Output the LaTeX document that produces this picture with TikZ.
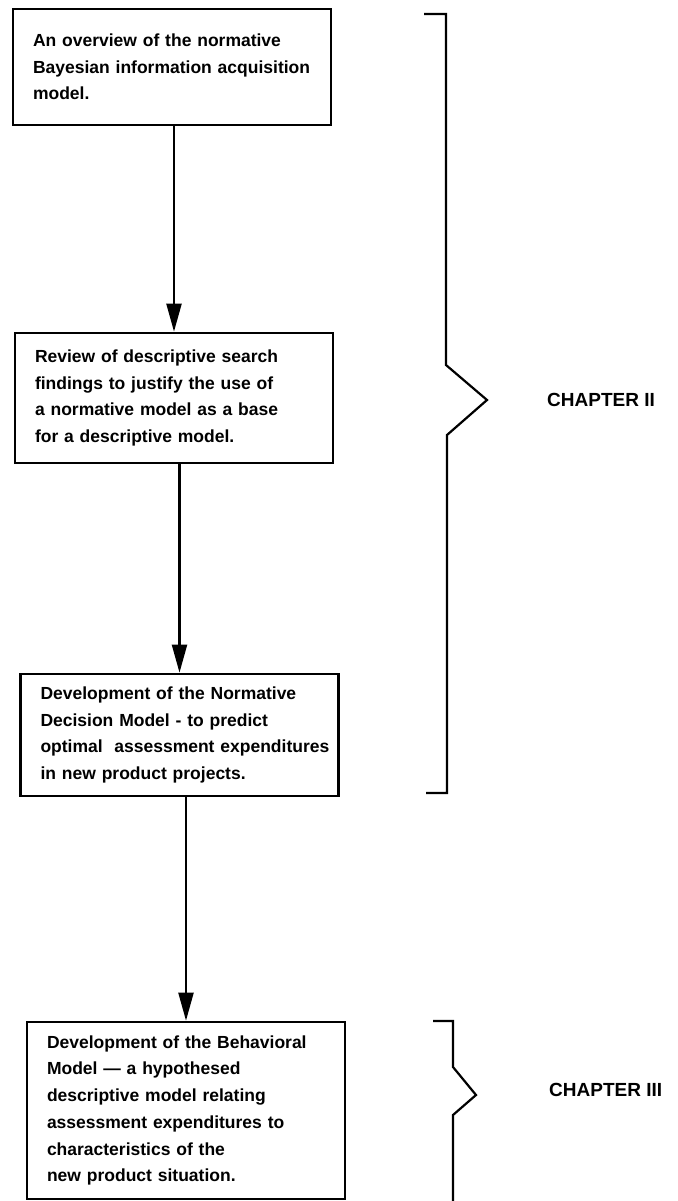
\documentclass[tikz,border=0pt]{standalone}
\usepackage{fontspec}
\setmainfont{Liberation Sans}
\usetikzlibrary{arrows.meta,positioning}

\begin{document}
\begin{tikzpicture}[x=1pt,y=1pt,yscale=-1,xscale=1,
    stepbox/.style={draw,line width=2.7pt,minimum width=318pt,text width=278pt,inner xsep=20pt,inner ysep=0pt,align=left,font=\fontsize{17.5}{26.7}\selectfont\bfseries},
    flow/.style={line width=2.2pt,-{Triangle[length=28pt,width=15pt]}},
    bracket/.style={line width=2.2pt,line join=miter},
    chapter/.style={anchor=west,inner sep=0pt,font=\fontsize{19}{21}\selectfont\bfseries}]
            \useasboundingbox (0,0) rectangle (677,1201); %diagram 677 wide, 1201 high

            % Text Node
            \node (overview) [stepbox,minimum height=116pt] at (172,67) {An overview of the normative\\\mbox{Bayesian information acquisition}\\model.};
            % Text Node
            \node (review) [stepbox,minimum height=130pt] at (174,398) {Review of descriptive search\\findings to justify the use of\\a normative model as a base\\for a descriptive model.};
            % Text Node
            \node (normative) [stepbox,minimum height=122pt] at (179.5,735) {Development of the Normative\\Decision Model - to predict\\\mbox{optimal\ \ assessment expenditures}\\in new product projects.};
            % Text Node
            \node (behavioral) [stepbox,minimum height=177pt] at (186,1110.5) {Development of the Behavioral\\Model — a hypothesed\\descriptive model relating\\assessment expenditures to\\characteristics of the\\new product situation.};

            %Straight Lines
            \draw [flow] (overview.south -| review.north) -- (review.north);
            \draw [flow] (review.south -| normative.north) -- (normative.north);
            \draw [flow] (normative.south -| behavioral.north) -- (behavioral.north);

            %Shape: Brace
            \draw [bracket] (424,14) -- (446,14) -- (446,365) -- (487,400) -- (447,435) -- (447,793) -- (426,793);
            %Shape: Brace
            \draw [bracket] (433,1021) -- (453,1021) -- (453,1067) -- (476,1095) -- (453,1115) -- (453,1201);

            % Text Node
            \node (chaptwo) [chapter] at (547,400) {CHAPTER II};
            % Text Node
            \node (chapthree) [chapter] at (549,1090) {CHAPTER III};

\end{tikzpicture}
\end{document}
